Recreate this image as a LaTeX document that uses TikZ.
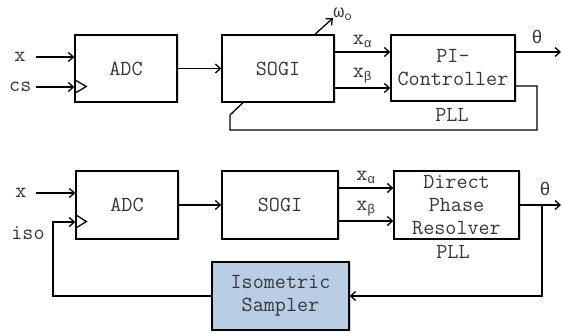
\documentclass[tikz,border=0pt]{standalone}
\usepackage{fontspec}
\newfontfamily\greekfont{Liberation Mono}[Scale=0.85]
\newcommand{\gr}[1]{{\greekfont #1}}
\usepackage{tikz}
\usetikzlibrary{arrows.meta,positioning,calc,shadows}
\definecolor{samplerblue}{RGB}{185,205,229}
\definecolor{inktext}{RGB}{55,55,55}

\begin{document}
\begin{tikzpicture}[x=1pt, y=-1pt,
  block/.style={draw, line width=1.4pt, fill=white, inner sep=2pt, align=center,
                minimum height=67pt, text=inktext, font=\ttfamily\fontsize{21.5}{23}\selectfont,
                drop shadow={shadow xshift=1.5pt, shadow yshift=-1.5pt, opacity=0.3}},
  lbl/.style={text=inktext, inner sep=1pt, font=\ttfamily\fontsize{21.5}{23}\selectfont},
  arrow/.style={-{Straight Barb[length=5pt,width=9pt]}, line width=1.3pt},
  wire/.style={line width=1.3pt}
]
\useasboundingbox (0,0) rectangle (562,336);

% upper loop: PI controller
\node[block, minimum width=102pt] (adc1) at (126,68.5) {ADC};
\node[block, minimum width=112pt] (sogi1) at (278,68.5) {SOGI};
\node[block, minimum width=124pt, minimum height=66pt] (pi1) at (453,68) {PI-\\Controller};
\node[lbl] (pllA) at (452,115) {PLL};

\coordinate (xin1) at (36,57);
\coordinate (csin) at (36,87);
\coordinate (wout) at (333,18);
\coordinate (out1) at (561,52);
\coordinate (fbr) at (537,130);
\coordinate (fbl) at (230,115);

\draw[arrow] (xin1) node[lbl, left=9pt] (xlab1) {x} -- (adc1.west |- xin1);
\draw[arrow] (csin) node[lbl, left=3pt] (cslab) {cs} -- ([yshift=-18.5pt]adc1.west);
\draw[wire] ([yshift=-11pt]adc1.west) -- ++(12,7) -- ++(-12,7);
\draw[arrow] (adc1) -- (sogi1);
\draw[arrow] ([xshift=37pt]sogi1.north) -- (wout);
\node[lbl] (wlab) at (343,14) {\gr{ω}\textsubscript{o}};
\draw[arrow] ([yshift=16.5pt]sogi1.east) -- ([yshift=16.5pt]sogi1.east -| pi1.west)
  node[lbl, midway, above=3pt] (xa1) {x\textsubscript{\gr{α}}};
\draw[arrow] ([yshift=-19.5pt]sogi1.east) -- ([yshift=-19.5pt]sogi1.east -| pi1.west)
  node[lbl, midway, above=3pt] (xb1) {x\textsubscript{\gr{β}}};
\draw[arrow] ([yshift=16pt]pi1.east) -- (out1);
\node[lbl] (th1) at (537,37) {\gr{θ}};
\draw[wire] ([yshift=-18pt]pi1.east) -| (fbr) -| (fbl) -- ([xshift=-35pt]sogi1.south);

% lower loop: direct phase resolver
\node[block, minimum width=102pt, minimum height=68pt] (adc2) at (127,205) {ADC};
\node[block, minimum width=116pt, minimum height=68pt] (sogi2) at (280,205) {SOGI};
\node[block, minimum width=125pt, minimum height=68pt] (dpr) at (456.5,205) {Direct\\Phase\\Resolver};
\node[lbl] (pllB) at (453,252) {PLL};
\node[block, fill=samplerblue, minimum width=137pt, minimum height=68pt] (sampler) at (280.5,296) {Isometric\\Sampler};

\coordinate (xin2) at (36,193);
\coordinate (out2) at (561,205);
\coordinate (br) at (542,205);
\coordinate (isoc) at (53,222);

\draw[arrow] (xin2) node[lbl, left=8pt] (xlab2) {x} -- (adc2.west |- xin2);
\draw[wire] ([yshift=-9.5pt]adc2.west) -- ++(11,7) -- ++(-11,7);
\draw[arrow] (adc2) -- (sogi2);
\draw[arrow] ([yshift=17pt]sogi2.east) -- ([yshift=17pt]sogi2.east -| dpr.west)
  node[lbl, midway, above=3pt] (xa2) {x\textsubscript{\gr{α}}};
\draw[arrow] ([yshift=-16pt]sogi2.east) -- ([yshift=-16pt]sogi2.east -| dpr.west)
  node[lbl, midway, above=3pt] (xb2) {x\textsubscript{\gr{β}}};
\draw[arrow] (dpr.east) -- (out2);
\node[lbl] (th2) at (545,189) {\gr{θ}};
\draw[arrow] (br) |- (sampler.east);
\draw[arrow] (sampler.west) -| (isoc) -- ([yshift=-17pt]adc2.west);
\node[lbl] (isolab) at (28,233) {iso};
\end{tikzpicture}
\end{document}
